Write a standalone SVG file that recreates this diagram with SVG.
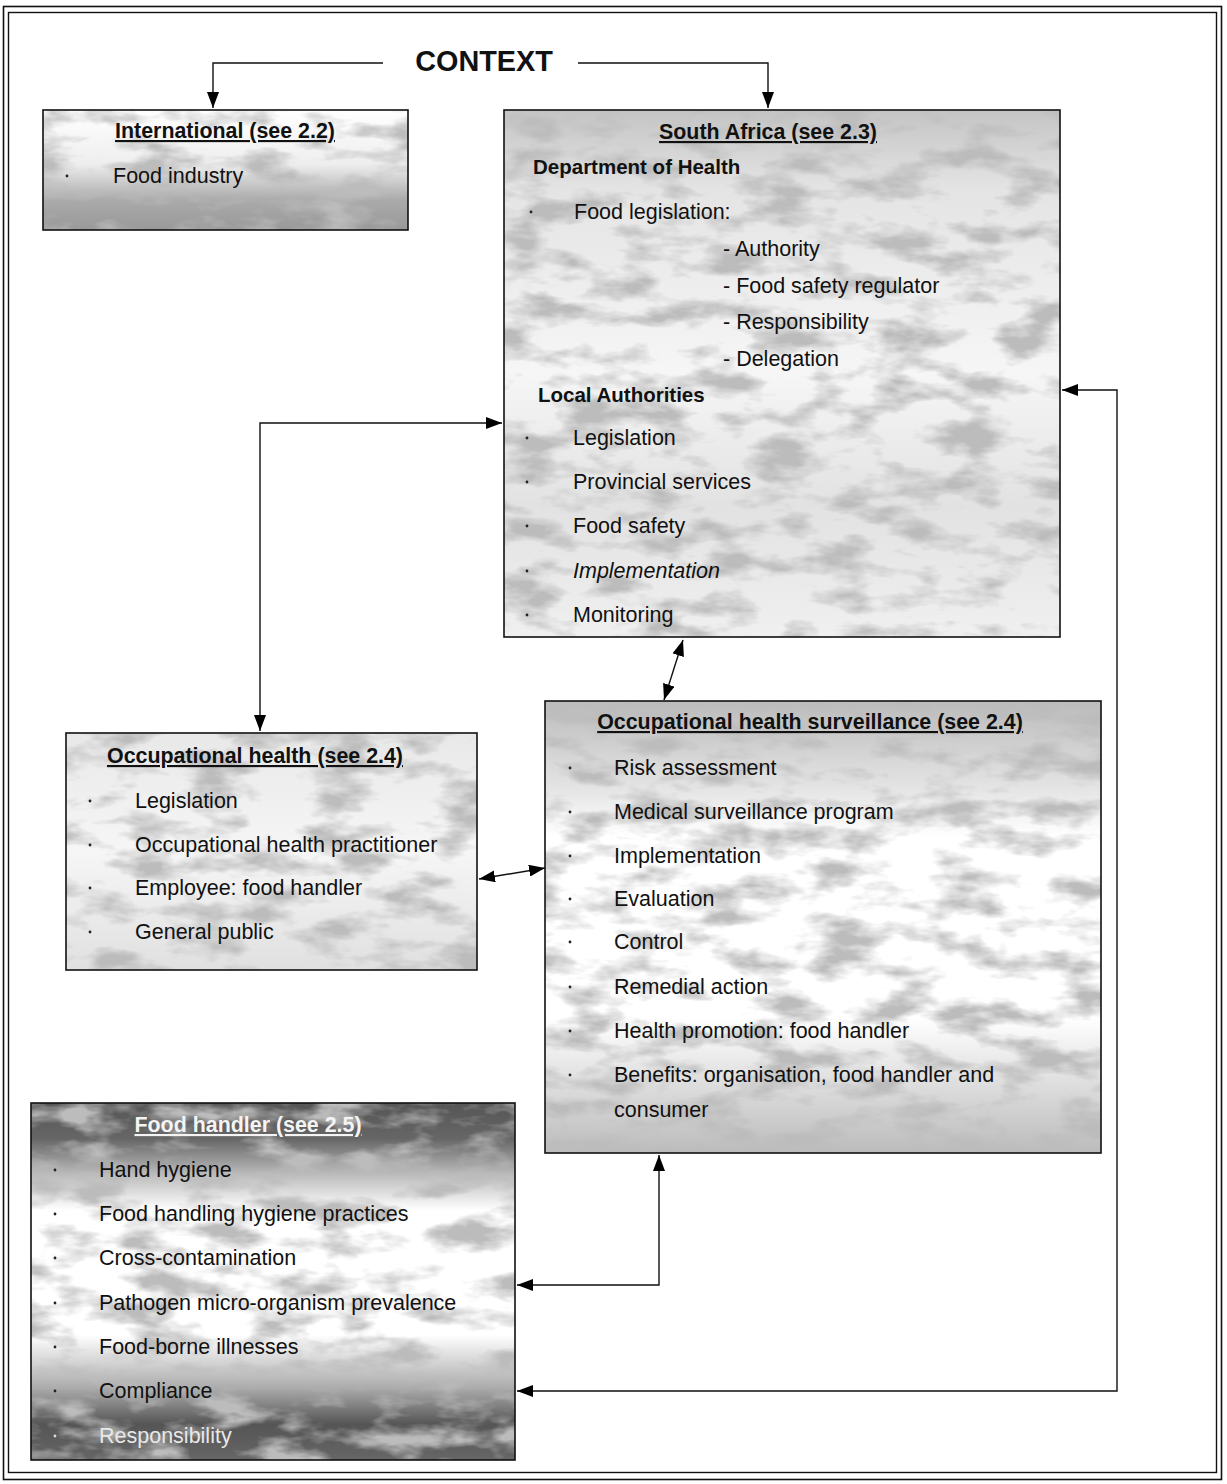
<svg xmlns="http://www.w3.org/2000/svg" width="1227" height="1484" viewBox="0 0 1227 1484">
<style>
text{font-family:"Liberation Sans",Arial,sans-serif;font-size:21.5px;fill:#111}
.t{font-weight:bold;text-decoration:underline;text-anchor:middle;font-size:21.4px}
.b{font-weight:bold;font-size:20.5px}
.box{fill:none;stroke:#111;stroke-width:1.6}
.con{fill:none;stroke:#111;stroke-width:1.4}
.blt{fill:#222}
</style>
<defs>
<marker id="ah" viewBox="0 0 16 12" refX="16" refY="6" markerWidth="16" markerHeight="12" markerUnits="userSpaceOnUse" orient="auto-start-reverse"><path d="M0,0 L16,6 L0,12 z" fill="#000"/></marker>
<filter id="mottle" x="0" y="0" width="1" height="1">
<feTurbulence type="fractalNoise" baseFrequency="0.016 0.04" numOctaves="4" seed="3" result="n"/>
<feColorMatrix in="n" type="matrix" values="0 0 0 0 0.5 0 0 0 0 0.5 0 0 0 0 0.5 3.4 0 0 0 -1.55" result="c"/>
<feComposite in="c" in2="SourceAlpha" operator="in"/>
</filter>
<linearGradient id="gInt" x1="0" y1="0" x2="0" y2="1"><stop offset="0" stop-color="#fff"/><stop offset="0.45" stop-color="#eee"/><stop offset="0.75" stop-color="#aaa"/><stop offset="1" stop-color="#999"/></linearGradient>
<linearGradient id="gSA" x1="0" y1="0" x2="0" y2="1"><stop offset="0" stop-color="#c4c4c4"/><stop offset="0.15" stop-color="#e4e4e4"/><stop offset="0.5" stop-color="#f6f6f6"/><stop offset="0.75" stop-color="#e2e2e2"/><stop offset="1" stop-color="#f0f0f0"/></linearGradient>
<linearGradient id="gOH" x1="0" y1="0" x2="0" y2="1"><stop offset="0" stop-color="#e8e8e8"/><stop offset="0.5" stop-color="#f6f6f6"/><stop offset="1" stop-color="#e0e0e0"/></linearGradient>
<linearGradient id="gOHS" x1="0" y1="0" x2="0" y2="1"><stop offset="0" stop-color="#bbb"/><stop offset="0.2" stop-color="#e6e6e6"/><stop offset="0.3" stop-color="#fff"/><stop offset="0.7" stop-color="#fff"/><stop offset="0.85" stop-color="#ddd"/><stop offset="1" stop-color="#bbb"/></linearGradient>
<linearGradient id="gFH" x1="0" y1="0" x2="0" y2="1"><stop offset="0" stop-color="#555"/><stop offset="0.1" stop-color="#666"/><stop offset="0.2" stop-color="#bbb"/><stop offset="0.3" stop-color="#fff"/><stop offset="0.65" stop-color="#fff"/><stop offset="0.8" stop-color="#aaa"/><stop offset="0.9" stop-color="#555"/><stop offset="1" stop-color="#666"/></linearGradient>
</defs>
<rect x="0" y="0" width="1227" height="1484" fill="#fff"/>
<g id="frame">
<rect x="3.5" y="6.5" width="1218" height="1473" fill="none" stroke="#111" stroke-width="1.6"/>
<rect x="8.5" y="12.5" width="1208" height="1460" fill="none" stroke="#111" stroke-width="1.4"/>
</g>
<g id="context"><text x="484" y="71" style="font-size:28.8px;font-weight:bold;text-anchor:middle">CONTEXT</text></g>

<g id="international">
<rect x="43" y="110" width="365" height="120" fill="url(#gInt)"/>
<rect x="43" y="110" width="365" height="120" fill="#000" filter="url(#mottle)"/>
<rect class="box" x="43" y="110" width="365" height="120"/>
<text class="t" x="225" y="138">International (see 2.2)</text>
<circle class="blt" cx="67" cy="176" r="1.4"/>
<text x="113" y="183">Food industry</text>
</g>

<g id="south-africa">
<rect x="504" y="110" width="556" height="527" fill="url(#gSA)"/>
<rect x="504" y="110" width="556" height="527" fill="#000" filter="url(#mottle)"/>
<rect class="box" x="504" y="110" width="556" height="527"/>
<text class="t" x="768" y="139">South Africa (see 2.3)</text>
<text class="b" x="533" y="174">Department of Health</text>
<circle class="blt" cx="531" cy="212" r="1.4"/>
<text x="574" y="219">Food legislation:</text>
<text x="723" y="256">- Authority</text>
<text x="723" y="293">- Food safety regulator</text>
<text x="723" y="329">- Responsibility</text>
<text x="723" y="366">- Delegation</text>
<text class="b" x="538" y="402">Local Authorities</text>
<circle class="blt" cx="527" cy="438" r="1.4"/>
<text x="573" y="445">Legislation</text>
<circle class="blt" cx="527" cy="482" r="1.4"/>
<text x="573" y="489">Provincial services</text>
<circle class="blt" cx="527" cy="526" r="1.4"/>
<text x="573" y="533">Food safety</text>
<circle class="blt" cx="527" cy="571" r="1.4"/>
<text x="573" y="578" font-style="italic">Implementation</text>
<circle class="blt" cx="527" cy="615" r="1.4"/>
<text x="573" y="622">Monitoring</text>
</g>

<g id="occupational-health">
<rect x="66" y="733" width="411" height="237" fill="url(#gOH)"/>
<rect x="66" y="733" width="411" height="237" fill="#000" filter="url(#mottle)"/>
<rect class="box" x="66" y="733" width="411" height="237"/>
<text class="t" x="255" y="763">Occupational health (see 2.4)</text>
<circle class="blt" cx="90" cy="801" r="1.4"/>
<text x="135" y="808">Legislation</text>
<circle class="blt" cx="90" cy="845" r="1.4"/>
<text x="135" y="852">Occupational health practitioner</text>
<circle class="blt" cx="90" cy="888" r="1.4"/>
<text x="135" y="895">Employee: food handler</text>
<circle class="blt" cx="90" cy="932" r="1.4"/>
<text x="135" y="939">General public</text>
</g>

<g id="surveillance">
<rect x="545" y="701" width="556" height="452" fill="url(#gOHS)"/>
<rect x="545" y="701" width="556" height="452" fill="#000" filter="url(#mottle)"/>
<rect class="box" x="545" y="701" width="556" height="452"/>
<text class="t" x="810" y="729">Occupational health surveillance (see 2.4)</text>
<circle class="blt" cx="570" cy="768" r="1.4"/>
<text x="614" y="775">Risk assessment</text>
<circle class="blt" cx="570" cy="812" r="1.4"/>
<text x="614" y="819">Medical surveillance program</text>
<circle class="blt" cx="570" cy="856" r="1.4"/>
<text x="614" y="863">Implementation</text>
<circle class="blt" cx="570" cy="899" r="1.4"/>
<text x="614" y="906">Evaluation</text>
<circle class="blt" cx="570" cy="942" r="1.4"/>
<text x="614" y="949">Control</text>
<circle class="blt" cx="570" cy="987" r="1.4"/>
<text x="614" y="994">Remedial action</text>
<circle class="blt" cx="570" cy="1031" r="1.4"/>
<text x="614" y="1038">Health promotion: food handler</text>
<circle class="blt" cx="570" cy="1075" r="1.4"/>
<text x="614" y="1082">Benefits: organisation, food handler and</text>
<text x="614" y="1117">consumer</text>
</g>

<g id="food-handler">
<rect x="31" y="1103" width="484" height="357" fill="url(#gFH)"/>
<rect x="31" y="1103" width="484" height="357" fill="#000" filter="url(#mottle)"/>
<rect class="box" x="31" y="1103" width="484" height="357"/>
<text class="t" x="248" y="1132" style="fill:#f4f4f4">Food handler (see 2.5)</text>
<circle class="blt" cx="55" cy="1170" r="1.4"/>
<text x="99" y="1177">Hand hygiene</text>
<circle class="blt" cx="55" cy="1214" r="1.4"/>
<text x="99" y="1221">Food handling hygiene practices</text>
<circle class="blt" cx="55" cy="1258" r="1.4"/>
<text x="99" y="1265">Cross-contamination</text>
<circle class="blt" cx="55" cy="1303" r="1.4"/>
<text x="99" y="1310">Pathogen micro-organism prevalence</text>
<circle class="blt" cx="55" cy="1347" r="1.4"/>
<text x="99" y="1354">Food-borne illnesses</text>
<circle class="blt" cx="55" cy="1391" r="1.4"/>
<text x="99" y="1398">Compliance</text>
<circle class="blt" cx="55" cy="1436" r="1.4" style="fill:#ddd"/>
<text x="99" y="1443" style="fill:#e8e8e8">Responsibility</text>
</g>

<g id="connectors">
<path class="con" d="M383,63 H213 V108" marker-end="url(#ah)"/>
<path class="con" d="M578,63 H768 V108" marker-end="url(#ah)"/>
<path class="con" d="M260,731 V423 H502" marker-start="url(#ah)" marker-end="url(#ah)"/>
<path class="con" d="M683,640 L664,700" marker-start="url(#ah)" marker-end="url(#ah)"/>
<path class="con" d="M479,879 L545,868" marker-start="url(#ah)" marker-end="url(#ah)"/>
<path class="con" d="M659,1155 V1285 H517" marker-start="url(#ah)" marker-end="url(#ah)"/>
<path class="con" d="M1062,390 H1117 V1391 H517" marker-start="url(#ah)" marker-end="url(#ah)"/>
</g>
</svg>
